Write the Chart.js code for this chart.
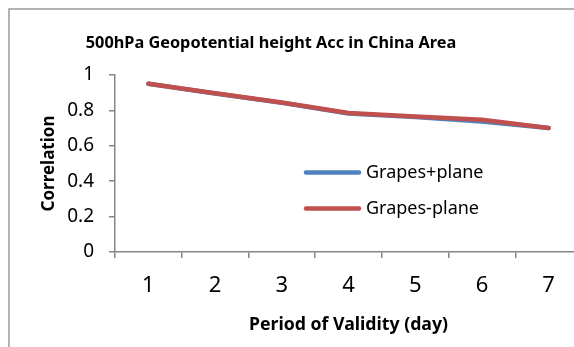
<!DOCTYPE html>
<html>
<head>
<meta charset="utf-8">
<script src="https://cdn.jsdelivr.net/npm/chart.js@4/dist/chart.umd.min.js"></script>
<style>
  html, body { margin: 0; padding: 0; background: #fff; overflow: hidden; }
  #wrap { position: relative; width: 574px; height: 347px; overflow: hidden; }
  #wrap canvas { position: absolute; left: 0; top: 0; }
</style>
</head>
<body>
<div id="wrap"><canvas id="c" width="600" height="347"></canvas></div>
<script>
// Forecast lead time (days)
const days = ['1', '2', '3', '4', '5', '6', '7'];
// Anomaly correlation of 500hPa geopotential height
const grapesPlusPlane = [0.950, 0.895, 0.843, 0.783, 0.762, 0.737, 0.700];
const grapesMinusPlane = [0.951, 0.897, 0.845, 0.785, 0.765, 0.747, 0.700];
const yTicks = [0, 0.2, 0.4, 0.6, 0.8, 1];

const chartTitle = '500hPa Geopotential height Acc in China Area';
const FONT = "'Noto Sans', 'DejaVu Sans', sans-serif";
const AXIS_GREY = '#868686';

// Outer frame, heading and in-plot legend
const decorations = {
  id: 'decorations',
  beforeDraw(chart) {
    const ctx = chart.ctx;
    ctx.save();
    ctx.strokeStyle = '#9a9a9a';
    ctx.lineWidth = 1.5;
    ctx.strokeRect(9, 9, 700, 500);
    ctx.restore();
  },
  afterDraw(chart) {
    const ctx = chart.ctx;
    ctx.save();
    ctx.fillStyle = '#000';
    ctx.font = 'bold 16.3px ' + FONT;
    ctx.textAlign = 'center';
    ctx.textBaseline = 'middle';
    ctx.fillText(chartTitle, 271, 43);

    const rows = [172.5, 208.5];
    chart.data.datasets.forEach((ds, i) => {
      const y = rows[i];
      ctx.strokeStyle = ds.borderColor;
      ctx.lineWidth = ds.borderWidth;
      ctx.lineCap = 'round';
      ctx.beginPath();
      ctx.moveTo(306, y);
      ctx.lineTo(359, y);
      ctx.stroke();
      ctx.fillStyle = '#000';
      ctx.font = '18px ' + FONT;
      ctx.textAlign = 'left';
      ctx.fillText(ds.label, 366, y);
    });
    ctx.restore();
  }
};

new Chart(document.getElementById('c'), {
  type: 'line',
  data: {
    labels: days,
    datasets: [
      {
        label: 'Grapes+plane',
        data: grapesPlusPlane,
        order: 1,
        borderColor: '#4F81BD',
        backgroundColor: '#4F81BD',
        borderWidth: 4.5,
        pointRadius: 0,
        tension: 0,
        borderCapStyle: 'round',
        borderJoinStyle: 'round'
      },
      {
        label: 'Grapes-plane',
        data: grapesMinusPlane,
        order: 0,
        borderColor: '#C0504D',
        backgroundColor: '#C0504D',
        borderWidth: 4.5,
        pointRadius: 0,
        tension: 0,
        borderCapStyle: 'round',
        borderJoinStyle: 'round'
      }
    ]
  },
  options: {
    responsive: false,
    animation: false,
    devicePixelRatio: 1,
    layout: { padding: { top: 75, right: 18, left: 0, bottom: 0 } },
    plugins: {
      legend: { display: false },
      title: { display: false },
      tooltip: { enabled: false }
    },
    scales: {
      x: {
        type: 'category',
        offset: true,
        afterFit(scale) { scale.height = 95; },
        border: { display: true, color: AXIS_GREY, width: 1.5 },
        grid: {
          offset: true,
          drawOnChartArea: false,
          drawTicks: true,
          tickLength: 6,
          color: AXIS_GREY,
          lineWidth: 1.5
        },
        ticks: {
          color: '#000',
          font: { family: FONT, size: 22 },
          padding: 15,
          maxRotation: 0
        },
        title: {
          display: true,
          text: 'Period of Validity (day)',
          color: '#000',
          font: { family: FONT, size: 17.7, weight: 'bold' },
          padding: { top: 0, bottom: 11 }
        }
      },
      y: {
        min: 0,
        max: 1,
        afterFit(scale) { scale.width = 115; },
        afterBuildTicks(scale) { scale.ticks = yTicks.map(v => ({ value: v })); },
        border: { display: true, color: AXIS_GREY, width: 1.5 },
        grid: {
          drawOnChartArea: false,
          drawTicks: true,
          tickLength: 6,
          color: AXIS_GREY,
          lineWidth: 1.5
        },
        ticks: {
          color: '#000',
          font: { family: FONT, size: 19 },
          padding: 15,
          callback: v => String(v)
        },
        title: {
          display: true,
          text: 'Correlation',
          color: '#000',
          font: { family: FONT, size: 17, weight: 'bold' },
          padding: { top: 39, bottom: 0 }
        }
      }
    }
  },
  plugins: [decorations]
});
</script>
</body>
</html>
